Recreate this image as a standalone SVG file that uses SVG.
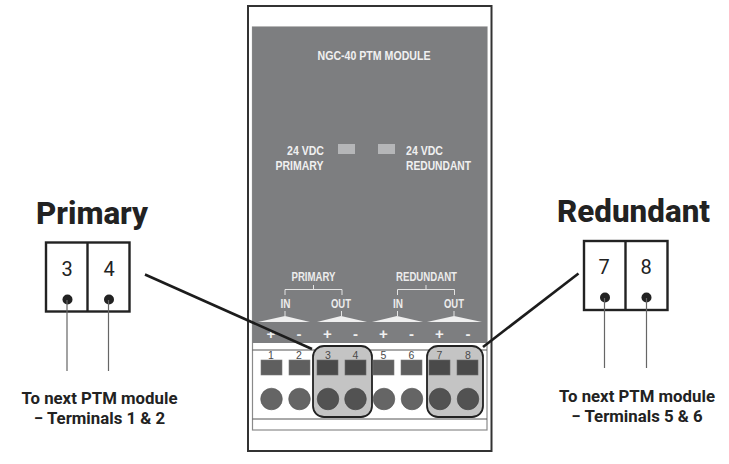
<svg xmlns="http://www.w3.org/2000/svg" width="729" height="464" viewBox="0 0 729 464">
<style>
.n{font-family:"Liberation Sans",Arial,sans-serif;font-weight:700;fill:#f0f0f0;font-size:13px}
.m{font-family:"Liberation Sans",Arial,sans-serif;font-weight:700;fill:#ececec;font-size:12.5px}
.r{font-family:Roboto,"Liberation Sans",sans-serif;fill:#222}
.h{font-size:31px;font-weight:800}
.t{font-size:16.8px;font-weight:700;text-anchor:middle}
.d{font-size:20px;text-anchor:middle}
.s{font-family:"Liberation Sans",Arial,sans-serif;font-size:10.5px;fill:#4a4a4a;text-anchor:middle}
.pm{font-family:"Liberation Sans",Arial,sans-serif;font-size:15px;font-weight:700;fill:#f0f0f0;text-anchor:middle}
.br{fill:none;stroke:#e4e4e4;stroke-width:1}
.tri{fill:#efefef}
.rc{fill:#5f5f5f;stroke:#7a7a7a;stroke-width:.6}
.rd{fill:#4a4a4a;stroke:#6a6a6a;stroke-width:.6}
.ci{fill:#656565;stroke:#555;stroke-width:.6}
.cd{fill:#525252;stroke:#444;stroke-width:.6}
.hl{fill:#c4c4c4;stroke:#222;stroke-width:1.800}
.bx{fill:#fff;stroke:#222;stroke-width:2.400}
.w{stroke:#666;stroke-width:1.200}
.c{stroke:#1c1c1c;stroke-width:2.600;fill:none}
</style>
<g id="module">
<rect x="248" y="6" width="243.500" height="445" fill="#fff" stroke="#333" stroke-width="2"/>
<rect x="252.500" y="27" width="234.500" height="403" fill="#fff" stroke="#8a8a8a" stroke-width="1.200"/>
<rect x="252.500" y="27" width="234.500" height="316" fill="#7d7e80"/>
<text class="n" x="374" y="59.500" text-anchor="middle" textLength="113" lengthAdjust="spacingAndGlyphs">NGC-40 PTM MODULE</text>
<rect x="338" y="144" width="17" height="10" fill="#b5b6b8"/>
<rect x="378" y="144" width="17" height="10" fill="#b5b6b8"/>
<text class="n" x="287" y="155" textLength="37" lengthAdjust="spacingAndGlyphs">24 VDC</text>
<text class="n" x="275.500" y="169.500" textLength="48" lengthAdjust="spacingAndGlyphs">PRIMARY</text>
<text class="n" x="406" y="155" textLength="37" lengthAdjust="spacingAndGlyphs">24 VDC</text>
<text class="n" x="406" y="169.500" textLength="65" lengthAdjust="spacingAndGlyphs">REDUNDANT</text>
<text class="m" x="291.500" y="281" textLength="44" lengthAdjust="spacingAndGlyphs">PRIMARY</text>
<text class="m" x="396" y="281" textLength="61" lengthAdjust="spacingAndGlyphs">REDUNDANT</text>
<path class="br" d="M285 295V289.500H342V295M313.500 289.500V285M397.500 295V289.500H454.500V295M426 289.500V285"/>
<text class="m" x="280.500" y="308" textLength="10" lengthAdjust="spacingAndGlyphs">IN</text>
<text class="m" x="331" y="308" textLength="20" lengthAdjust="spacingAndGlyphs">OUT</text>
<text class="m" x="393" y="308" textLength="10" lengthAdjust="spacingAndGlyphs">IN</text>
<text class="m" x="444" y="308" textLength="20" lengthAdjust="spacingAndGlyphs">OUT</text>
<path class="br" d="M285 311V316M341.500 311V316M397.500 311V316M454 311V316"/>
<polygon class="tri" points="258,322 285,316 310,322"/>
<polygon class="tri" points="317,322 341,316 367,322"/>
<polygon class="tri" points="372,322 397,316 423,322"/>
<polygon class="tri" points="427,322 454,316 482,322"/>
<text class="pm" x="271" y="339">+</text><text class="pm" x="299" y="339">-</text>
<text class="pm" x="327.500" y="339">+</text><text class="pm" x="355.500" y="339">-</text>
<text class="pm" x="383.500" y="339">+</text><text class="pm" x="411.500" y="339">-</text>
<text class="pm" x="439.500" y="339">+</text><text class="pm" x="468" y="339">-</text>
<path d="M252.500 350H487M252.500 419H487" stroke="#555" stroke-width="1" fill="none"/>
<rect class="hl" x="313" y="346" width="59" height="71" rx="11"/>
<rect class="hl" x="427" y="346" width="56" height="71" rx="11"/>
<text class="s" x="271" y="359">1</text><text class="s" x="299" y="359">2</text>
<text class="s" x="328" y="359">3</text><text class="s" x="355.500" y="359">4</text>
<text class="s" x="383.500" y="359">5</text><text class="s" x="411.500" y="359">6</text>
<text class="s" x="439.500" y="359">7</text><text class="s" x="468" y="359">8</text>
<rect class="rc" x="261" y="360" width="21" height="15"/><rect class="rc" x="289" y="360" width="21" height="15"/>
<rect class="rd" x="317" y="360" width="21" height="15"/><rect class="rd" x="345" y="360" width="21" height="15"/>
<rect class="rc" x="373" y="360" width="21" height="15"/><rect class="rc" x="401" y="360" width="21" height="15"/>
<rect class="rd" x="429" y="360" width="21" height="15"/><rect class="rd" x="457" y="360" width="21" height="15"/>
<circle class="ci" cx="271.500" cy="399" r="10.800"/><circle class="ci" cx="299.500" cy="399" r="10.800"/>
<circle class="cd" cx="328" cy="399" r="10.800"/><circle class="cd" cx="355.500" cy="399" r="10.800"/>
<circle class="ci" cx="384" cy="399" r="10.800"/><circle class="ci" cx="412" cy="399" r="10.800"/>
<circle class="cd" cx="440" cy="399" r="10.800"/><circle class="cd" cx="468" cy="399" r="10.800"/>
</g>
<g id="primary">
<text class="r h" x="36" y="224" textLength="112" lengthAdjust="spacingAndGlyphs">Primary</text>
<rect class="bx" x="46" y="242.500" width="83.500" height="69"/>
<path d="M87.500 242V312" stroke="#222" stroke-width="2.400"/>
<text class="r d" x="67" y="276">3</text><text class="r d" x="109" y="276">4</text>
<circle cx="67.500" cy="299.500" r="5" fill="#222"/><circle cx="109" cy="299.500" r="5" fill="#222"/>
<path class="w" d="M67 300V371M108.500 300V371"/>
<text class="r t" x="99.500" y="404">To next PTM module</text>
<text class="r t" x="99.500" y="424">− Terminals 1 &amp; 2</text>
</g>
<g id="redundant">
<text class="r h" x="557" y="222" textLength="153" lengthAdjust="spacingAndGlyphs">Redundant</text>
<rect class="bx" x="584" y="241" width="83.500" height="69"/>
<path d="M625.500 240V311" stroke="#222" stroke-width="2.400"/>
<text class="r d" x="604" y="274">7</text><text class="r d" x="646" y="274">8</text>
<circle cx="605" cy="297.500" r="5" fill="#222"/><circle cx="646.500" cy="297.500" r="5" fill="#222"/>
<path class="w" d="M604.500 298V368M646.500 298V368"/>
<text class="r t" x="637" y="402">To next PTM module</text>
<text class="r t" x="637" y="422">− Terminals 5 &amp; 6</text>
</g>
<g id="connectors">
<path class="c" d="M145 274.500L312 349"/>
<path class="c" d="M578.500 273.500L483 347"/>
</g>
</svg>
